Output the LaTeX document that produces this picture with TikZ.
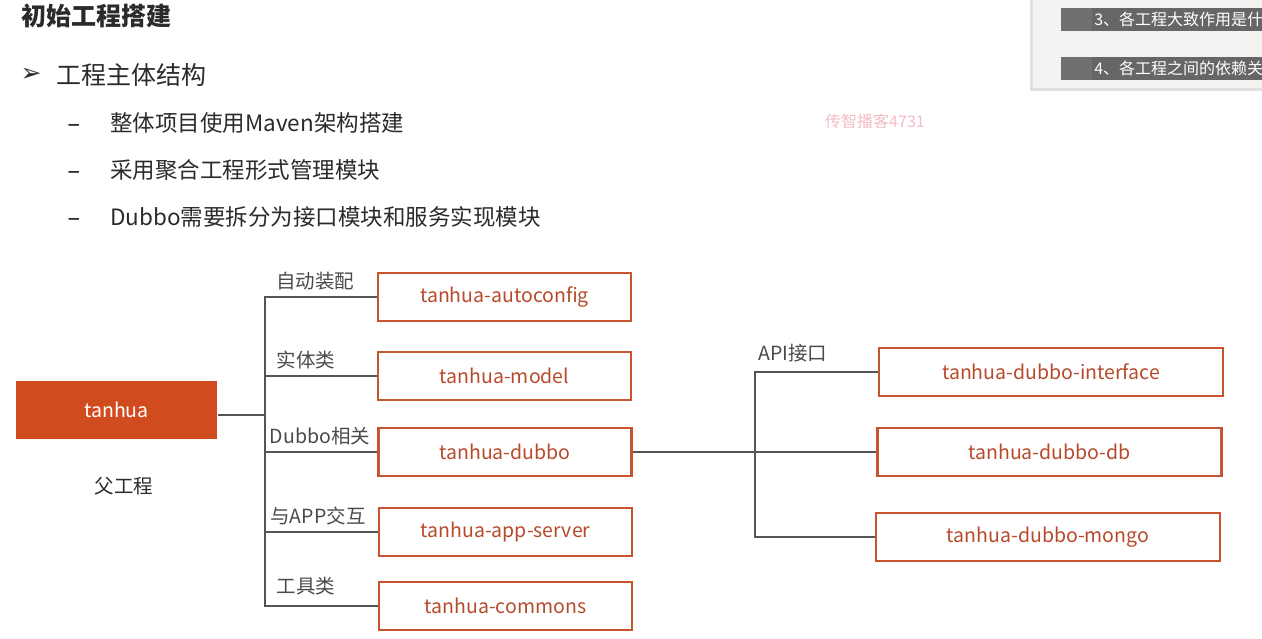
\documentclass[tikz,border=0pt]{standalone}
\usepackage{fontspec}
\setmainfont{Noto Sans CJK SC}
\newfontfamily\symfont{DejaVu Sans}
\usetikzlibrary{positioning}
\definecolor{tanred}{HTML}{D04B1E}
\definecolor{modline}{HTML}{C9552E}
\definecolor{modtext}{HTML}{B84A2C}
\definecolor{treeline}{HTML}{555555}
\definecolor{labeltext}{HTML}{4A4A4A}
\definecolor{bodytext}{HTML}{2B2B2B}
\definecolor{panelbg}{HTML}{F2F2F0}
\definecolor{barfill}{HTML}{666666}
\definecolor{barhead}{HTML}{707070}
\definecolor{markpink}{HTML}{F4BCC4}
\newcommand{\fsz}[1]{\fontsize{#1}{#1}\selectfont}
\newcommand{\dashitem}{\makebox[43pt][l]{\symfont\fsz{26}\raisebox{-1pt}{–}}}

\begin{document}
\begin{tikzpicture}[x=1pt, y=-1pt, line width=2.5pt,
        every node/.style={inner sep=0pt},
        module/.style={draw=modline, fill=white, line width=2.6pt,
          minimum width=253pt, minimum height=48pt, text=modtext, font=\fsz{19.5}},
        bigmodule/.style={module, minimum width=344pt}]
      \tikzstyle{tag} = [text=labeltext, font=\fsz{19.5}]
      \tikzstyle{point} = [text=bodytext, font=\fsz{22.5}, anchor=west]
      \useasboundingbox (0,0) rectangle (1262,639);
      \fill[white] (0,0) rectangle (1262,639);

      % corner panel of the player
      \fill[black!12] (1030,-2) rectangle (1264,91);
      \fill[panelbg] (1033,-2) rectangle (1264,88);
      \begin{scope}
        \clip (1033,0) rectangle (1262,88);
        \fill[barfill] (1061,8) rectangle (1264,31);
        \fill[barhead] (1061,8) rectangle (1092,31);
        \node (note3) [anchor=west, text=white, font=\fsz{16}] at (1093,19.5) {3、各工程大致作用是什么};
        \fill[barfill] (1061,57) rectangle (1264,80);
        \fill[barhead] (1061,57) rectangle (1092,80);
        \node (note4) [anchor=west, text=white, font=\fsz{16}] at (1093,68.5) {4、各工程之间的依赖关系};
      \end{scope}

      % slide text
      \node (title) [anchor=west, text=bodytext, font=\fsz{25}\bfseries] at (20,16) {初始工程搭建};
      \node (arrow) [text=bodytext, font=\symfont\fsz{25}] at (31,75) {➢};
      \node (head) [anchor=west, text=bodytext, font=\fsz{25}] at (55,75) {工程主体结构};
      \node (maven) [point] at (66,123) {\dashitem 整体项目使用Maven架构搭建};
      \node (aggr) [point] at (66,170) {\dashitem 采用聚合工程形式管理模块};
      \node (split) [point] at (66,217) {\dashitem Dubbo需要拆分为接口模块和服务实现模块};
      \node (mark) [text=markpink, font=\fsz{16}] at (875,121) {传智播客4731};

      % parent and modules
      \node (tanhua) [fill=tanred, minimum width=201pt, minimum height=58pt,
        text=white, font=\fsz{19.5}] at (116.5,410) {tanhua};
      \node (parent) [tag, text=bodytext] at (124,486) {父工程};
      \node (autoconfig) [module] at (504.5,297) {tanhua-autoconfig};
      \node (model) [module] at (504.5,376) {tanhua-model};
      \node (dubbo) [module] at (505,452) {tanhua-dubbo};
      \node (appserver) [module] at (505.5,532) {tanhua-app-server};
      \node (commons) [module] at (505.5,606) {tanhua-commons};
      \node (iface) [bigmodule] at (1051,372) {tanhua-dubbo-interface};
      \node (db) [bigmodule] at (1049.5,452) {tanhua-dubbo-db};
      \node (mongo) [bigmodule] at (1048,537) {tanhua-dubbo-mongo};

      \node (tagauto) [tag] at (315,281) {自动装配};
      \node (tagmodel) [tag] at (306,360) {实体类};
      \node (tagdubbo) [tag] at (320,436) {Dubbo相关};
      \node (tagapp) [tag] at (318,516) {与APP交互};
      \node (tagtools) [tag] at (306,586) {工具类};
      \node (tagapi) [tag] at (793,353) {API接口};

      % tree lines
      \coordinate (trunk) at (265,0);
      \coordinate (api) at (755,0);
      \begin{scope}[treeline]
        \draw ([yshift=-5pt]tanhua.east) -- ([yshift=-5pt]tanhua.east -| trunk);
        \draw (autoconfig.west) -- (trunk |- autoconfig.west) -- (trunk |- commons.west) -- (commons.west);
        \draw (trunk |- model.west) -- (model.west);
        \draw (trunk |- dubbo.west) -- (dubbo.west);
        \draw (trunk |- appserver.west) -- (appserver.west);
        \draw (dubbo.east) -- (db.west);
        \draw (iface.west) -- (api |- iface.west) -- (api |- mongo.west) -- (mongo.west);
      \end{scope}
    \end{tikzpicture}
\end{document}
